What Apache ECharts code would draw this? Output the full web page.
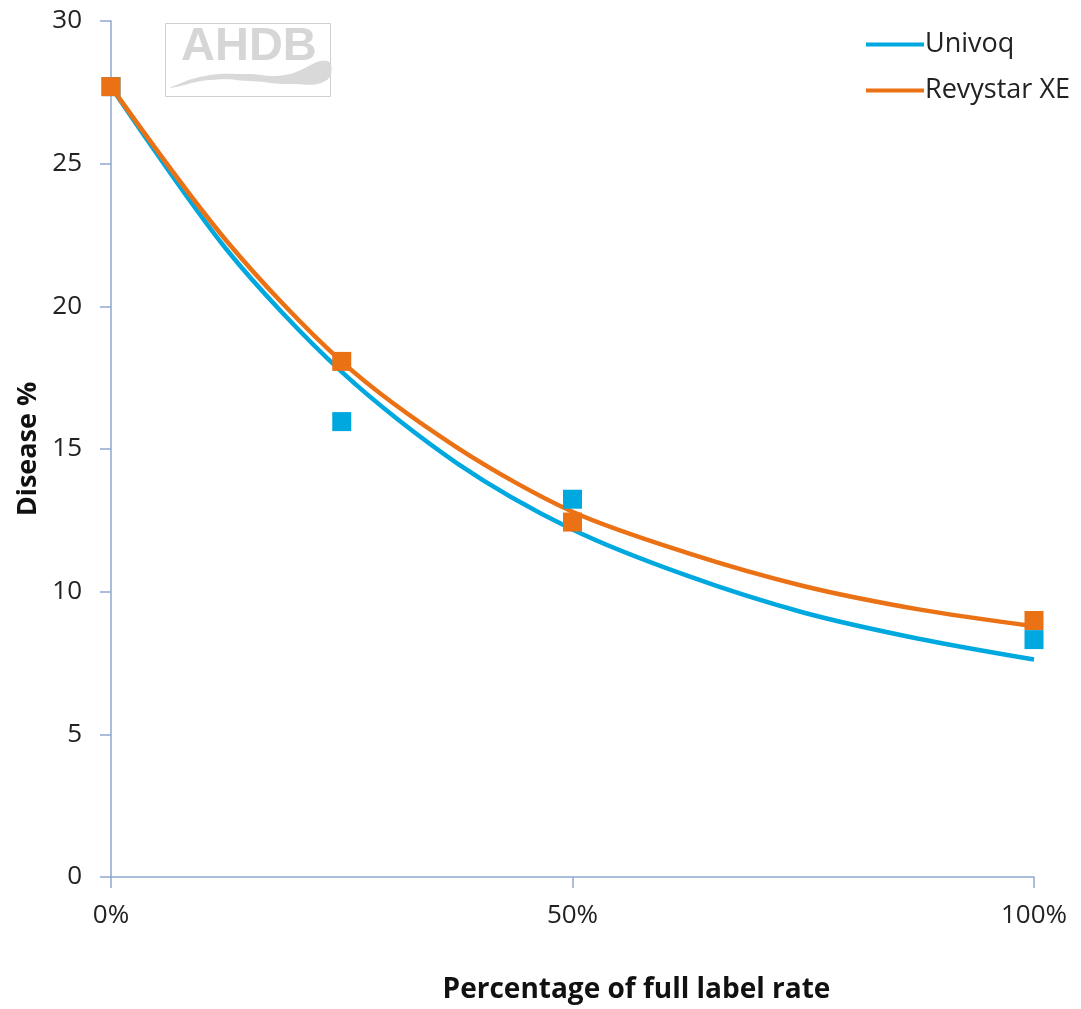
<!DOCTYPE html>
<html>
<head>
<meta charset="utf-8">
<script src="https://cdn.jsdelivr.net/npm/echarts@6/dist/echarts.min.js"></script>
<style>html,body{margin:0;padding:0;background:#fff}#c{width:1081px;height:1009px}</style>
</head>
<body>
<div id="c"></div>
<script>
// Observed data points (fraction of full label rate, disease %)
const rates = [0, 0.25, 0.5, 1];
const univoqPoints = [27.7, 15.96, 13.24, 8.32];
const revystarPoints = [27.7, 18.07, 12.44, 8.99];

// Trend curves
const curveRates = [0, 0.125, 0.25, 0.375, 0.5, 0.625, 0.75, 0.875, 1];
const univoqCurve = [27.7, 22.0, 17.7, 14.5, 12.18, 10.55, 9.27, 8.35, 7.62];
const revystarCurve = [27.7, 22.3, 18.06, 15.05, 12.8, 11.35, 10.2, 9.38, 8.79];

const yTicks = [0, 5, 10, 15, 20, 25, 30];
const xTickLabels = {0: '0%', 0.5: '50%', 1: '100%'};

const BLUE = '#00A8E0', ORANGE = '#EB7115', AXIS = '#8EA8CF';
const FONT = 'Open Sans';

const pair = (xs, ys) => xs.map((x, i) => [x, ys[i]]);

const chart = echarts.init(document.getElementById('c'), null, {renderer: 'canvas'});
chart.setOption({
  backgroundColor: '#fff',
  animation: false,
  textStyle: {fontFamily: FONT},
  grid: {left: 111, right: 47, top: 21, bottom: 131},
  legend: {
    orient: 'vertical', left: 866, top: 28, padding: 0,
    itemWidth: 58, itemHeight: 4, itemGap: 13, icon: 'rect',
    data: ['Univoq', 'Revystar XE'],
    textStyle: {fontFamily: FONT, fontSize: 27, color: '#222', lineHeight: 33, padding: [0, 0, 0, -4]}
  },
  xAxis: {
    type: 'value', min: 0, max: 1, interval: 0.5,
    name: 'Percentage of full label rate', nameLocation: 'middle', nameGap: 99,
    nameTextStyle: {fontFamily: FONT, fontSize: 28, fontWeight: 'bold', color: '#111', padding: [0, 0, 0, 128]},
    axisLine: {show: true, lineStyle: {color: AXIS, width: 1.5}},
    axisTick: {show: true, length: 11, inside: false, lineStyle: {color: AXIS, width: 1.5}},
    axisLabel: {margin: 26, fontSize: 26, color: '#222', formatter: v => xTickLabels[v] !== undefined ? xTickLabels[v] : ''},
    splitLine: {show: false}
  },
  yAxis: {
    type: 'value', min: yTicks[0], max: yTicks[yTicks.length - 1], interval: 5,
    name: 'Disease %', nameLocation: 'middle', nameGap: 66, nameRotate: 90,
    nameTextStyle: {fontFamily: FONT, fontSize: 27, fontWeight: 'bold', color: '#111'},
    axisLine: {show: true, lineStyle: {color: AXIS, width: 1.5}},
    axisTick: {show: true, length: 11, inside: false, lineStyle: {color: AXIS, width: 1.5}},
    axisLabel: {margin: 29, fontSize: 26, color: '#222'},
    splitLine: {show: false}
  },
  series: [
    {name: 'Univoq', type: 'line', smooth: 0.3, showSymbol: false, symbol: 'none', z: 2,
     color: BLUE, lineStyle: {color: BLUE, width: 4.5}, data: pair(curveRates, univoqCurve)},
    {name: 'Revystar XE', type: 'line', smooth: 0.3, showSymbol: false, symbol: 'none', z: 3,
     color: ORANGE, lineStyle: {color: ORANGE, width: 4.5}, data: pair(curveRates, revystarCurve)},
    {name: 'Univoq pts', type: 'scatter', symbol: 'rect', symbolSize: 19, z: 4,
     itemStyle: {color: BLUE, opacity: 1}, data: pair(rates, univoqPoints)},
    {name: 'Revystar pts', type: 'scatter', symbol: 'rect', symbolSize: 19, z: 5,
     itemStyle: {color: ORANGE, opacity: 1}, data: pair(rates, revystarPoints)}
  ],
  graphic: [
    {type: 'rect', shape: {x: 165.5, y: 23.5, width: 165, height: 73}, style: {fill: '#fff', stroke: '#cfcfcf', lineWidth: 1}, z: 1},
    {type: 'text', left: 181, top: 24, style: {text: 'AHDB', font: 'bold 47px "Liberation Sans"', fill: '#d6d6d6'}, z: 1},
    {type: 'polygon', z: 1, shape: {smooth: 0.5, points: [[171, 87], [205, 76], [245, 74], [285, 75], [327, 61], [327, 80], [290, 84], [250, 81], [210, 80], [171, 88]]},
     style: {fill: '#d9d9d9'}}
  ]
});
</script>
</body>
</html>
